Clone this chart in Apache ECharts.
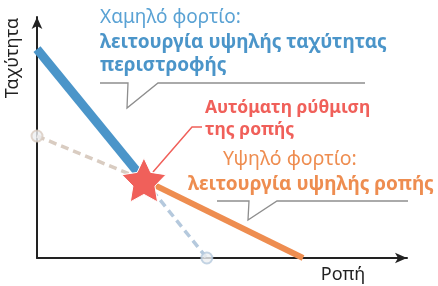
<!DOCTYPE html>
<html>
<head>
<meta charset="utf-8">
<script src="https://cdn.jsdelivr.net/npm/echarts@6/dist/echarts.min.js"></script>
<style>
  html, body { margin: 0; padding: 0; background: #fff; }
  #chart { width: 438px; height: 286px; }
</style>
</head>
<body>
<div id="chart"></div>
<script>
// speed/torque curve pieces, in axis units (0..100 each way)
var lowLoadLine = [[0, 86.7], [28.9, 32.4]];
var highLoadLine = [[28.9, 32.4], [71.9, 0]];
var speedGuide = [[0, 50.6], [28.9, 32.4]];
var torqueGuide = [[28.9, 32.4], [45.9, 0]];
var switchPoint = [[28.9, 32.4]];

var axisNames = { x: 'Ροπή', y: 'Ταχύτητα' };
var lowLoadText = ['Χαμηλό φορτίο:', 'λειτουργία υψηλής ταχύτητας', 'περιστροφής'];
var highLoadText = ['Υψηλό φορτίο:', 'λειτουργία υψηλής ροπής'];
var autoText = ['Αυτόματη ρύθμιση', 'της ροπής'];

var FONT = '"Noto Sans", sans-serif';
var BLUE = '#4b95c9', ORANGE = '#ee8d50', RED = '#f0605a';

var chart = echarts.init(document.getElementById('chart'));

function txt(x, y, s, color, size, weight, align) {
	return {
		type: 'text', x: x, y: y, silent: true,
		style: { text: s, fill: color, font: (weight || 'normal') + ' ' + size + 'px ' + FONT,
			textVerticalAlign: 'middle', textAlign: align || 'left' }
	};
}

function poly(points, color, width) {
	return { type: 'polyline', silent: true, shape: { points: points },
		style: { stroke: color, lineWidth: width, fill: null } };
}

var yName = txt(0, 0, axisNames.y, '#222', 18, 'normal', 'center');
yName.x = 13; yName.y = 58; yName.rotation = Math.PI / 2;

var option = {
	animation: false,
	grid: { left: 37, right: 31, top: 17, bottom: 28 },
	xAxis: {
		type: 'value', min: 0, max: 100,
		axisLine: { show: true, symbol: ['none', 'arrow'], symbolSize: [8, 12], lineStyle: { color: '#222', width: 2 } },
		axisTick: { show: false }, axisLabel: { show: false }, splitLine: { show: false }
	},
	yAxis: {
		type: 'value', min: 0, max: 100,
		axisLine: { show: true, symbol: ['none', 'arrow'], symbolSize: [8, 12], lineStyle: { color: '#222', width: 2 } },
		axisTick: { show: false }, axisLabel: { show: false }, splitLine: { show: false }
	},
	series: [
		{ type: 'line', data: speedGuide, z: 2, symbol: 'none',
			lineStyle: { color: '#d9ccc1', width: 3.5, type: [8, 5] } },
		{ type: 'line', data: torqueGuide, z: 2, symbol: 'none',
			lineStyle: { color: '#b5c9dd', width: 3.5, type: [8, 5] } },
		{ type: 'scatter', data: [speedGuide[0]], z: 3, symbolSize: 11,
			itemStyle: { color: '#eef0f3', borderColor: '#d9ccc1', borderWidth: 2 } },
		{ type: 'scatter', data: [torqueGuide[1]], z: 3, symbolSize: 11,
			itemStyle: { color: '#eef0f3', borderColor: '#b5c9dd', borderWidth: 2 } },
		{ type: 'line', data: lowLoadLine, z: 4, symbol: 'none',
			lineStyle: { color: BLUE, width: 9, cap: 'butt' } },
		{ type: 'line', data: highLoadLine, z: 4, symbol: 'none',
			lineStyle: { color: ORANGE, width: 6, cap: 'butt' } },
		{ type: 'scatter', data: switchPoint, z: 6, symbol: 'path://M0,-10L2.94,-4.05L9.51,-3.09L4.76,1.55L5.88,8.09L0,5L-5.88,8.09L-4.76,1.55L-9.51,-3.09L-2.94,-4.05Z',
			symbolSize: 44, itemStyle: { color: RED, borderColor: '#fff', borderWidth: 1, opacity: 1 } }
	],
	graphic: [
		yName,
		txt(343, 275, axisNames.x, '#222', 18, 'normal', 'center'),
		txt(100, 18, lowLoadText[0], '#5aa2d4', 19),
		txt(100, 43, lowLoadText[1], BLUE, 19, 'bold'),
		txt(100, 66, lowLoadText[2], BLUE, 19, 'bold'),
		poly([[100, 83], [128, 83], [127, 108], [158, 83], [365, 83]], '#8e8e8e', 1.3),
		txt(205, 108, autoText[0], RED, 17.5, 'bold'),
		txt(205, 130, autoText[1], RED, 17.5, 'bold'),
		poly([[153, 172], [192, 127], [202, 127]], RED, 1.5),
		txt(223, 159, highLoadText[0], ORANGE, 19.5),
		txt(188, 185, highLoadText[1], ORANGE, 19, 'bold'),
		poly([[217, 201], [249, 201], [248, 220], [277, 201], [408, 201]], '#8e8e8e', 1.3)
	]
};

chart.setOption(option);
</script>
</body>
</html>
